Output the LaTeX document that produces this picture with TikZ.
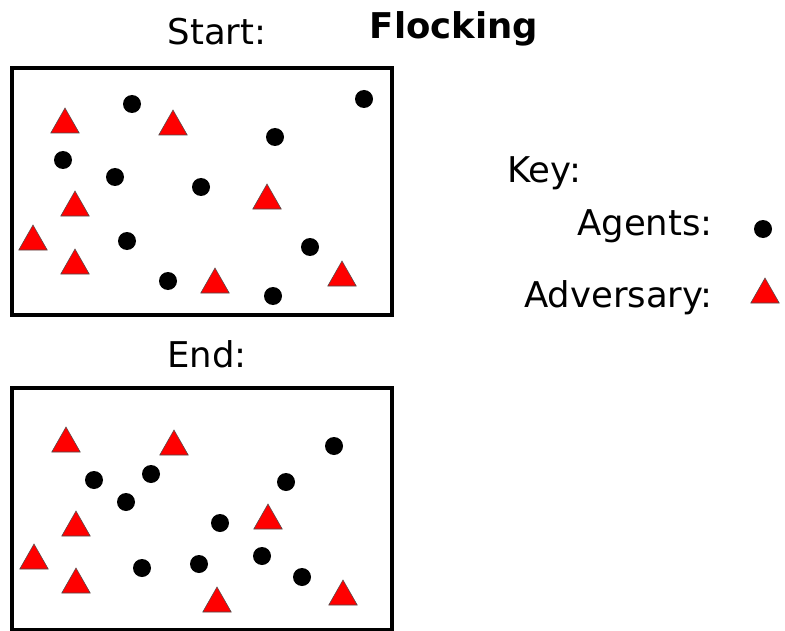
\documentclass[tikz,border=0pt]{standalone}
\usepackage{fontspec}
\setmainfont{DejaVu Sans}
\usetikzlibrary{positioning}

\begin{document}
\begin{tikzpicture}[x=0.75pt,y=-0.75pt,
  lbl/.style={font=\fontsize{26.6}{30}\selectfont,inner sep=0pt},
  field/.style={line width=2.4pt},
  agent/.style={fill=black},
  adversary/.style={fill=red,draw=black!70,line width=0.4pt}]
  \def\rdot{9}
  \def\hw{14.25}
  \def\ht{25}
  \useasboundingbox (0,0) rectangle (785,631);

  % titles
  \node[lbl,anchor=base] (start) at (217,45) {Start:};
  \node[lbl,anchor=base,font=\fontsize{26.6}{30}\selectfont\bfseries] (flocking) at (454,39) {Flocking};
  \node[lbl,anchor=base] (endlbl) at (207,367) {End:};

  % the two fields
  \draw[field] (12,68) rectangle (392,315);
  \draw[field] (12,388) rectangle (392,629.5);

  % Start: agents and adversaries
  \foreach \x/\y in {132/104,364/99,275/137,63/160,115/177,201/187,127/241,310/247,168/281,273/296}
    \fill[agent] (\x,\y) circle[radius=\rdot];
  \foreach \x/\y in {65/133,173/135,75/216,267/209,33/250,75/274,215/293,342/286}
    \draw[adversary] (\x-\hw,\y) -- (\x+\hw,\y) -- (\x,\y-\ht) -- cycle;

  % End: agents and adversaries
  \foreach \x/\y in {334/446,94/480,151/474,286/482,126/502,220/523,199/564,262/556,142/568,302/577}
    \fill[agent] (\x,\y) circle[radius=\rdot];
  \foreach \x/\y in {66/452,174/455,76/536,268/529,34/569,76/593,217/612,343/605}
    \draw[adversary] (\x-\hw,\y) -- (\x+\hw,\y) -- (\x,\y-\ht) -- cycle;

  % key
  \node[lbl,anchor=base west] (key) at (507,182) {Key:};
  \node[lbl,anchor=base east] (agents) at (713,235) {Agents:};
  \node[lbl,anchor=base east] (adv) at (713,307) {Adversary:};
  \fill[agent] (763,229) circle[radius=\rdot];
  \draw[adversary] (765-\hw,303) -- (765+\hw,303) -- (765,303-\ht) -- cycle;
\end{tikzpicture}
\end{document}
